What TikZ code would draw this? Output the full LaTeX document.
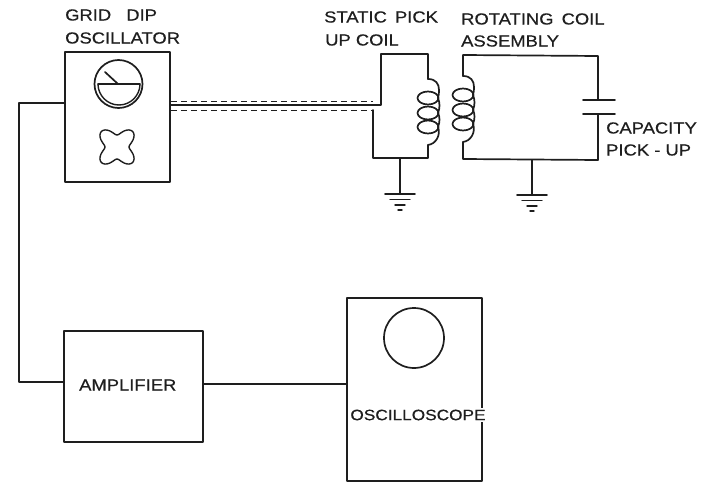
\documentclass[tikz,border=0pt]{standalone}
\usepackage{fontspec}
\usepackage{xcolor}
\setmainfont[FakeStretch=1.15,FakeBold=0.5]{Liberation Sans}
\usetikzlibrary{calc}
\definecolor{ink}{HTML}{1E1E1E}
\tikzset{
  base/.style={draw=ink, line width=1.7pt, line cap=round, line join=round},
  thin/.style={draw=ink, line width=1.4pt, line cap=round, line join=round},
  shield/.style={draw=ink, line width=0.9pt, dash pattern=on 6pt off 4pt},
  unit/.style={base, rectangle, inner sep=0pt},
  lab/.style={text=ink, anchor=west, inner sep=0pt, font=\fontsize{16}{18}\selectfont},
  gnd/.pic={
    \draw[base] (-15,0) -- (15,0);
    \draw[thin] (-10,5.5) -- (10,5.5);
    \draw[thin] (-5,11) -- (5,11);
    \draw[thin] (-2,16) -- (2,16);
  },
  coil/.pic={
    \draw[base] (0,0) .. controls (8,0) and (11,5) .. (11,11) .. controls (11,15) and (10.5,17) .. (10,19);
    \foreach \cy in {19,34,48} {
      \draw[base] (0,\cy) ellipse (10.5 and 6.5);
    }
    \draw[base] (10,19) .. controls (12,24) and (12,29) .. (10,34);
    \draw[base] (10,34) .. controls (12,38) and (12,43) .. (10,48);
    \draw[base] (10,48) .. controls (13,56) and (8,65) .. (0,66);
  },
}
\begin{document}
\begin{tikzpicture}[x=1pt,y=-1pt]
  \useasboundingbox (0,0) rectangle (702,484);
  % instruments
  \node[unit, minimum width=105pt, minimum height=130pt] (osc) at (117.5,117) {};
  \node[unit, minimum width=139pt, minimum height=111pt] (amp) at (133.5,386.5) {};
  \node[unit, minimum width=135pt, minimum height=183pt] (scope) at (414.5,389.5) {};
  \node[base, circle, inner sep=0pt, minimum size=60pt] (screen) at (414,338) {};
  \node[lab, anchor=center, fill=white, inner xsep=1pt, inner ysep=2pt, font=\fontsize{15}{18}\selectfont] (scopelab) at (418,415) {OSCILLOSCOPE};
  \node[lab] (amplab) at (79,385) {AMPLIFIER};
  % meter and knob
  \node[base, circle, inner sep=0pt, minimum size=48pt] (meter) at (118.5,84) {};
  \draw[thin] (98,84) -- (140,84);
  \draw[thin] (98,84) arc (180:0:21);
  \coordinate (pivot) at (118,84);
  \coordinate (tip) at (105,72);
  \draw[base] (pivot) -- (tip);
  \draw[thin, shift={(117,147)}] plot[domain=0:360, samples=73, smooth cycle]
    ({(17-5*cos(4*\x))*cos(\x)}, {(17-5*cos(4*\x))*sin(\x)});
  % wiring between the units
  \coordinate (bend) at (19,103);
  \coordinate (foot) at (19,382);
  \draw[base] (osc.west |- bend) -- (bend) -- (foot) -- (amp.west |- foot);
  \draw[base] (amp.east |- 0,384) -- (scope.west |- 0,384);
  % static coil
  \coordinate (sa) at (381,105);
  \coordinate (sb) at (381,54);
  \coordinate (sc) at (428,54);
  \coordinate (sd) at (428,79);
  \coordinate (se) at (428,145);
  \coordinate (sf) at (428,158);
  \coordinate (sg) at (373,158);
  \coordinate (sh) at (373,110);
  \draw[base] (osc.east |- sa) -- (sa) -- (sb) -- (sc) -- (sd);
  \draw[base] (se) -- (sf) -- (sg) -- (sh);
  \draw[shield] (osc.east |- 0,101) -- (373,101);
  \draw[shield] (osc.east |- sh) -- (sh);
  \pic at (sd) {coil};
  \coordinate (sgnd) at (400,194);
  \draw[base] (sgnd |- sf) -- (sgnd);
  \pic at (sgnd) {gnd};
  % rotating coil
  \coordinate (ra) at (463,76);
  \coordinate (rb) at (463,55);
  \coordinate (rc) at (598,56);
  \coordinate (rd) at (598,100);
  \coordinate (re) at (598,114);
  \coordinate (rf) at (598,160);
  \coordinate (rg) at (463,159);
  \coordinate (rh) at (463,142);
  \draw[base] (ra) -- (rb) -- (rc) -- (rd);
  \draw[base] (re) -- (rf) -- (rg) -- (rh);
  \draw[base] (583,100) -- (615,100);
  \draw[base] (583,114) -- (615,114);
  \pic at (ra) {coil};
  \coordinate (rgnd) at (532,195);
  \draw[base] (rgnd |- rf) -- (rgnd);
  \pic at (rgnd) {gnd};
  % labels
  \node[lab] (griplab) at (65,15) {GRID\hspace{10pt} DIP};
  \node[lab] (osclab) at (65,38) {OSCILLATOR};
  \node[lab] (statlab) at (324,17) {STATIC\hspace{3pt} PICK};
  \node[lab] (uplab) at (325,40) {UP COIL};
  \node[lab] (rotlab) at (461,19) {ROTATING\hspace{3pt} COIL};
  \node[lab] (asmlab) at (461,41) {ASSEMBLY};
  \node[lab] (caplab) at (606,128) {CAPACITY};
  \node[lab] (picklab) at (606,150) {PICK - UP};
\end{tikzpicture}
\end{document}
